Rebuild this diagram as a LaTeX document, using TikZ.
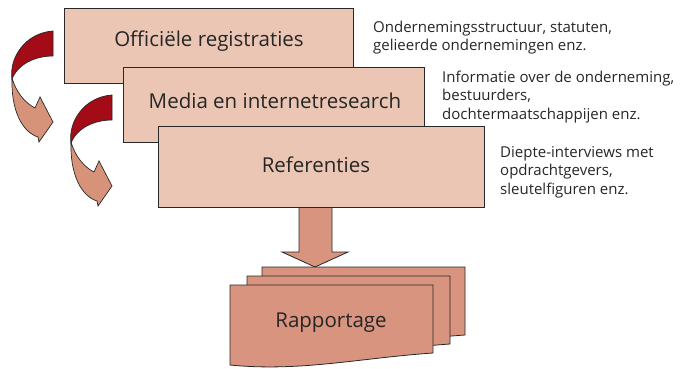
\documentclass[tikz,border=0pt]{standalone}
\usepackage{fontspec}
\setmainfont{Open Sans}
\definecolor{boxfill}{RGB}{235,198,180}
\definecolor{docfill}{RGB}{216,148,126}
\definecolor{darkred}{RGB}{163,11,22}
\definecolor{salmon}{RGB}{215,146,122}
\definecolor{edge}{RGB}{40,40,40}
\tikzset{
  regbox/.style={draw=edge, line width=0.9pt, fill=boxfill, rectangle, inner sep=0pt},
  boxtext/.style={anchor=base, inner sep=0pt, font=\fontsize{20.5}{24}\selectfont, text=black!85},
  sidetext/.style={anchor=base west, inner sep=0pt, align=left, font=\fontsize{15}{18.2}\selectfont, text=black!85},
  docshape/.style={draw=edge, line width=0.8pt, fill=docfill},
  backribbon/.style={draw=edge, line width=0.7pt, fill=darkred},
  frontribbon/.style={draw=edge, line width=0.7pt, fill=salmon},
}
\begin{document}
\begin{tikzpicture}[x=1pt,y=-1pt]
\useasboundingbox (0,0) rectangle (682,369);
% boxes
\node[regbox, minimum width=289pt, minimum height=75pt, anchor=north west] (b1) at (64,8) {};
\node[boxtext] (t1) at (209,47) {Officiële registraties};
\node[regbox, minimum width=301pt, minimum height=75pt, anchor=north west] (b2) at (123,67) {};
\node[boxtext] (t2) at (275,108) {Media en internetresearch};
% big arrow (under box 3)
\coordinate (ashaft) at (299,200);
\draw[docshape] (ashaft) -- (299,252) -- (282,252) -- (315,267) -- (348,252) -- (332,252) -- (332,200);
\node[regbox, minimum width=326pt, minimum height=81pt, anchor=north west] (b3) at (158,126) {};
\node[boxtext] (t3) at (316,172) {Referenties};
% side texts (base = last line)
\node[sidetext] (s1) at (373,51) {Ondernemingsstructuur, statuten,\\gelieerde ondernemingen enz.};
\node[sidetext] (s2) at (442,119) {Informatie over de onderneming,\\bestuurders,\\dochtermaatschappijen enz.};
\node[sidetext] (s3) at (500,194) {Diepte-interviews met\\opdrachtgevers,\\sleutelfiguren enz.};
% curved arrows
\foreach \dx/\dy in {0/0, 59/64}{
  \begin{scope}[shift={(\dx,\dy)}]
    \draw[frontribbon] (12,78) .. controls (16,92) and (25,103) .. (35,108) -- (40,97) -- (53,122) -- (39,142) -- (38,137) .. controls (22,132) and (11,110) .. (12,78) -- cycle;
    \draw[backribbon] (53,31) -- (53,56) .. controls (35,56) and (18,64) .. (12,79) .. controls (9,58) and (25,33) .. (53,31) -- cycle;
  \end{scope}
}
% documents
\foreach \dx/\dy/\nm in {32/-18/d3, 17/-9/d2}{
  \draw[docshape] (230+\dx,285+\dy) -- (433+\dx,285+\dy) -- (433+\dx,353+\dy) .. controls (360+\dx,358+\dy) and (300+\dx,372+\dy) .. (230+\dx,365+\dy) -- cycle;
}
\draw[docshape] (230,285) -- (433,285) -- (433,353) .. controls (360,358) and (300,372) .. (230,365) -- cycle;
\node[boxtext] (t4) at (331,327) {Rapportage};
\end{tikzpicture}
\end{document}
